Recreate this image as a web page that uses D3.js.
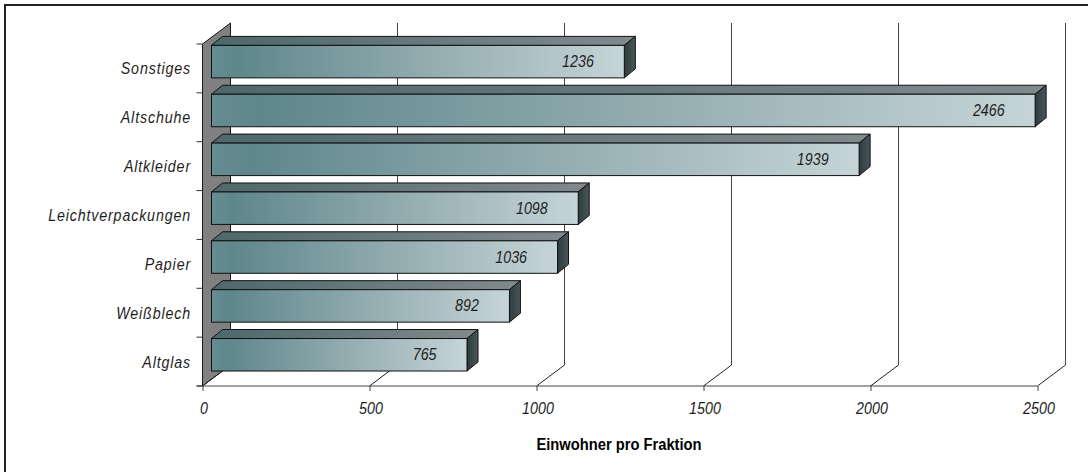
<!DOCTYPE html>
<html>
<head>
<meta charset="utf-8">
<script src="https://cdn.jsdelivr.net/npm/d3@7"></script>
<style>
  html, body { margin: 0; padding: 0; background: #fff; }
  svg { display: block; }
  .lbl { font-family: 'Liberation Sans', Arial, sans-serif; font-style: italic; font-size: 17px; fill: #1e1e1e; }
  .cat { letter-spacing: 1px; }
  .title { font-family: 'Liberation Sans', Arial, sans-serif; font-weight: bold; font-size: 16px; fill: #000; }
</style>
</head>
<body>
<svg id="chart" width="1088" height="472"></svg>
<script>
// ---- data ----
const categories = ["Sonstiges", "Altschuhe", "Altkleider", "Leichtverpackungen", "Papier", "Weißblech", "Altglas"];
const values = [1236, 2466, 1939, 1098, 1036, 892, 765];
const tickValues = [0, 500, 1000, 1500, 2000, 2500];
const axisTitle = "Einwohner pro Fraktion";

// ---- layout ----
const svg = d3.select("#chart");
const DX = 28, DY = 21;          // full depth of the 3D box
const BF_DX = 9, BF_DY = 6.8;    // bar front depth offset
const B_DX = 11, B_DY = 9;       // bar thickness in depth
const SX = 0.84;                 // horizontal condensing of text
const x = d3.scaleLinear().domain([0, 2500]).range([202.5, 1037.5]);
const y = d3.scaleBand().domain(categories).range([44, 386]).paddingInner(0.335).paddingOuter(0.1675);
const yTop = 44, yBot = 386;

// frame (top & left edges visible)
svg.append("rect").attr("x", 5).attr("y", 5).attr("width", 1200).attr("height", 600)
  .attr("fill", "none").attr("stroke", "#222").attr("stroke-width", 2);

// defs / gradients
const defs = svg.append("defs");
function grad(id, stops) {
  const g = defs.append("linearGradient").attr("id", id).attr("x1", 0).attr("y1", 0).attr("x2", 1).attr("y2", 0);
  stops.forEach(s => g.append("stop").attr("offset", s[0]).attr("stop-color", s[1]));
}
grad("gFront", [[0, "#658c91"], [0.06, "#5e878c"], [0.5, "#90aaae"], [1, "#c5d4d7"]]);
grad("gTop", [[0, "#4d686c"], [1, "#818a8c"]]);
grad("gSide", [[0, "#2f3c3e"], [1, "#4a5759"]]);

// left wall
svg.append("path")
  .attr("d", `M${x(0)},${yTop} L${x(0) + DX},${yTop - DY} L${x(0) + DX},${yBot - DY} L${x(0)},${yBot} Z`)
  .attr("fill", "#808080").attr("stroke", "#1a1a1a").attr("stroke-width", 1);

// back-wall gridlines
svg.append("g").selectAll("line").data(tickValues.filter(v => v > 0)).join("line")
  .attr("x1", d => x(d) + DX).attr("x2", d => x(d) + DX)
  .attr("y1", yTop - DY).attr("y2", yBot - DY)
  .attr("stroke", "#444").attr("stroke-width", 1);

// floor: front edge and depth diagonals
svg.append("line").attr("x1", x(0) - 6).attr("x2", x(2500)).attr("y1", yBot).attr("y2", yBot)
  .attr("stroke", "#444").attr("stroke-width", 1);
svg.append("g").selectAll("line").data(tickValues).join("line")
  .attr("x1", d => x(d)).attr("y1", yBot).attr("x2", d => x(d) + DX).attr("y2", yBot - DY)
  .attr("stroke", "#222").attr("stroke-width", 1);

// value axis (ticks + labels)
const xAxis = d3.axisBottom(x).tickValues(tickValues).tickSize(5).tickFormat(d3.format("d"));
const gx = svg.append("g").attr("transform", `translate(0,${yBot})`).call(xAxis);
gx.select(".domain").remove();
gx.selectAll(".tick line").attr("stroke", "#444");
gx.selectAll(".tick text").attr("class", "lbl").attr("fill", null).attr("font-size", null).attr("font-family", null)
  .attr("dy", null).attr("x", 0).attr("y", 28)
  .attr("transform", `translate(1,0) scale(${SX},1)`);

// category axis ticks at band boundaries
const boundaries = d3.range(categories.length + 1).map(i => yTop + i * (yBot - yTop) / categories.length);
svg.append("g").selectAll("line").data(boundaries).join("line")
  .attr("x1", x(0) - 6).attr("x2", x(0)).attr("y1", d => d).attr("y2", d => d)
  .attr("stroke", "#333").attr("stroke-width", 1);

// category labels
svg.append("g").selectAll("text").data(categories).join("text")
  .attr("class", "lbl cat")
  .attr("transform", d => `translate(191,${y(d) + y.bandwidth() / 2 + 6}) scale(${SX},1)`)
  .attr("text-anchor", "end")
  .text(d => d);

// bars
const bars = svg.append("g").selectAll("g").data(categories.map((c, i) => ({ c, v: values[i] }))).join("g");
const bh = y.bandwidth();
bars.each(function (d) {
  const g = d3.select(this);
  const x0 = x(0) + BF_DX, x1 = x(d.v) + BF_DX;
  const t = y(d.c) - BF_DY, b = t + bh;
  g.append("path")
    .attr("d", `M${x0},${t} L${x1},${t} L${x1 + B_DX},${t - B_DY} L${x0 + B_DX},${t - B_DY} Z`)
    .attr("fill", "url(#gTop)").attr("stroke", "#111").attr("stroke-width", 1).attr("stroke-linejoin", "round");
  g.append("path")
    .attr("d", `M${x1},${t} L${x1 + B_DX},${t - B_DY} L${x1 + B_DX},${b - B_DY} L${x1},${b} Z`)
    .attr("fill", "url(#gSide)").attr("stroke", "#111").attr("stroke-width", 1).attr("stroke-linejoin", "round");
  g.append("rect")
    .attr("x", x0).attr("y", t).attr("width", x1 - x0).attr("height", bh)
    .attr("fill", "url(#gFront)").attr("stroke", "#111").attr("stroke-width", 1);
  g.append("text").attr("class", "lbl")
    .attr("transform", `translate(${x1 - 30.5},${t + bh / 2 + 5.5}) scale(${SX},1)`)
    .attr("text-anchor", "end")
    .text(d.v);
});

// axis title
svg.append("text").attr("class", "title")
  .attr("transform", `translate(619,450) scale(0.92,1)`).attr("text-anchor", "middle")
  .text(axisTitle);
</script>
</body>
</html>
